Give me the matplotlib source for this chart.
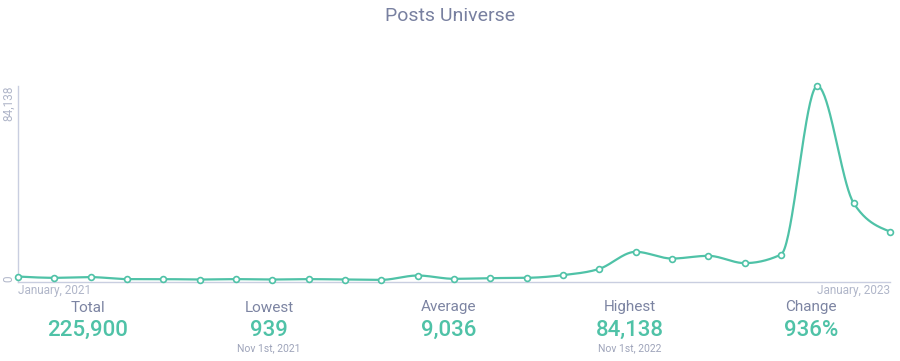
import numpy as np
import matplotlib
matplotlib.use("Agg")
import matplotlib.pyplot as plt

# Datos mensuales (enero 2021 - enero 2023)
months = list(range(25))
posts = [2350, 1800, 2100, 1240, 1240, 1070, 1240, 1070, 1240, 1070, 939,
         2790, 1370, 1670, 1800, 2960, 5660, 12960, 10080, 11240, 8110,
         11800, 84138, 33850, 21660]

stat_labels = ["Total", "Lowest", "Average", "Highest", "Change"]
stat_values = ["225,900", "939", "9,036", "84,138", "936%"]
stat_notes = ["", "Nov 1st, 2021", "", "Nov 1st, 2022", ""]

TEAL = "#4fc2a7"
AXIS = "#c9cee0"
MUTED = "#b0b6c9"
LABEL = "#7c84a2"

plt.rcParams['font.family'] = ['Roboto', 'DejaVu Sans']


def monotone_curve(x, y, n=40):
    # Interpolacion monotona tipo d3.curveMonotoneX
    x = np.asarray(x, float)
    y = np.asarray(y, float)
    h = np.diff(x)
    s = np.diff(y) / h
    t = np.zeros_like(y)
    for i in range(1, len(y) - 1):
        p = (s[i - 1] * h[i] + s[i] * h[i - 1]) / (h[i - 1] + h[i])
        t[i] = (np.sign(s[i - 1]) + np.sign(s[i])) * min(abs(s[i - 1]), abs(s[i]), 0.5 * abs(p))
    t[0] = (3 * s[0] - t[1]) / 2
    t[-1] = (3 * s[-1] - t[-2]) / 2
    xs, ys = [], []
    for i in range(len(y) - 1):
        u = np.linspace(0, 1, n, endpoint=(i == len(y) - 2))
        h00 = 2 * u**3 - 3 * u**2 + 1
        h10 = u**3 - 2 * u**2 + u
        h01 = -2 * u**3 + 3 * u**2
        h11 = u**3 - u**2
        xs.append(x[i] + u * h[i])
        ys.append(h00 * y[i] + h10 * h[i] * t[i] + h01 * y[i + 1] + h11 * h[i] * t[i + 1])
    return np.concatenate(xs), np.concatenate(ys)


fig = plt.figure(figsize=(9, 3.61), dpi=100)
ax = fig.add_axes([0.02, 0.2188, 0.9689, 0.543])

cx, cy = monotone_curve(months, posts)
ax.plot(cx, cy, color=TEAL, lw=1.6, clip_on=False, zorder=2)
ax.plot(months, posts, ls="none", marker="o", ms=4.2, mfc="white",
        mec=TEAL, mew=1.2, clip_on=False, zorder=3)

ax.set_xlim(0, 24)
ax.set_ylim(0, max(posts))
for side in ["top", "right"]:
    ax.spines[side].set_visible(False)
for side in ["left", "bottom"]:
    ax.spines[side].set_color(AXIS)
    ax.spines[side].set_linewidth(1.0)
ax.set_xticks([])
ax.set_yticks([])

# Etiquetas del eje y (rotadas)
ax.text(-0.0034, 0, "0", transform=ax.get_yaxis_transform(), rotation=90,
        ha="right", va="bottom", fontsize=8.5, color=MUTED)
ax.text(-0.0034, max(posts), f"{max(posts):,}", transform=ax.get_yaxis_transform(),
        rotation=90, ha="right", va="top", fontsize=8.5, color=MUTED)

# Etiquetas del eje x
ax.text(0, -0.01, "January, 2021", transform=ax.transAxes, ha="left", va="top",
        fontsize=8.5, color=MUTED)
ax.text(1, -0.01, "January, 2023", transform=ax.transAxes, ha="right", va="top",
        fontsize=8.5, color=MUTED)

fig.text(0.5, 1 - 16 / 361, "Posts Universe", ha="center", va="center",
         fontsize=14, color="#7880a0", fontweight="normal")

# Estadisticas inferiores
xs_stats = [88, 269, 449, 630, 811]
for xp, lab, val, note in zip(xs_stats, stat_labels, stat_values, stat_notes):
    fig.text(xp / 900, 1 - 307.5 / 361, lab, ha="center", va="center",
             fontsize=11, color=LABEL, fontweight="normal")
    fig.text(xp / 900, 1 - 330 / 361, val, ha="center", va="center",
             fontsize=16, color=TEAL, fontweight="medium")
    if note:
        fig.text(xp / 900, 1 - 348.5 / 361, note, ha="center", va="center",
                 fontsize=7.5, color="#9ea4ba")

fig.savefig("out.png", dpi=100)
